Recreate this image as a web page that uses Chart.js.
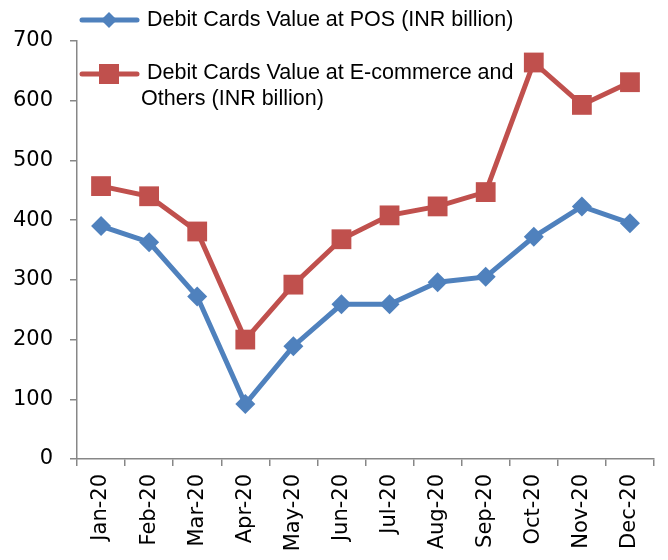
<!DOCTYPE html>
<html>
<head>
<meta charset="utf-8">
<script src="https://cdn.jsdelivr.net/npm/chart.js@4/dist/chart.umd.min.js"></script>
<style>
  html, body { margin: 0; padding: 0; background: #fff; }
  #wrap { width: 668px; height: 560px; position: relative; }
</style>
</head>
<body>
<div id="wrap"><canvas id="debitChart"></canvas></div>
<script>
// months on the x axis
var months = ['Jan-20', 'Feb-20', 'Mar-20', 'Apr-20', 'May-20', 'Jun-20',
              'Jul-20', 'Aug-20', 'Sep-20', 'Oct-20', 'Nov-20', 'Dec-20'];
// INR billion
var posValue = [390, 363, 272, 92, 189, 259, 259, 296, 305, 372, 423, 395];
var ecomValue = [457, 440, 381, 200, 292, 368, 408, 423, 447, 664, 593, 631];
var posLabel = 'Debit Cards Value at POS (INR billion)';
var ecomLabel = ['Debit Cards Value at E-commerce and', 'Others (INR billion)'];
var yTicks = [0, 100, 200, 300, 400, 500, 600, 700];

var blue = '#4f81bd', red = '#c0504d', axisGrey = '#878787';

// legend drawn by hand, sits inside the chart like the original
const legendPlugin = {
    id: 'manualLegend',
    afterDraw(chart) {
        const ctx = chart.ctx;
        ctx.save();
        ctx.lineCap = 'round';
        ctx.lineWidth = 5;

        ctx.strokeStyle = blue;
        ctx.beginPath(); ctx.moveTo(82, 20); ctx.lineTo(137, 20); ctx.stroke();
        ctx.fillStyle = blue;
        ctx.beginPath();
        ctx.moveTo(109, 12); ctx.lineTo(117, 20); ctx.lineTo(109, 28); ctx.lineTo(101, 20);
        ctx.closePath(); ctx.fill();

        ctx.strokeStyle = red;
        ctx.beginPath(); ctx.moveTo(82, 74); ctx.lineTo(137, 74); ctx.stroke();
        ctx.fillStyle = red;
        ctx.fillRect(99, 64, 20, 20);

        ctx.fillStyle = '#000';
        ctx.font = '21.5px "Liberation Sans", Arial, sans-serif';
        ctx.textBaseline = 'middle';
        ctx.fillText(posLabel, 147, 20);
        ctx.fillText(ecomLabel[0], 147, 73);
        ctx.fillText(ecomLabel[1], 141, 99);
        ctx.restore();
    }
};

const ctx = document.getElementById('debitChart').getContext('2d');
new Chart(ctx, {
    type: 'line',
    data: {
        labels: months,
        datasets: [{
            label: posLabel,
            data: posValue,
            borderColor: blue,
            backgroundColor: blue,
            borderWidth: 5,
            pointStyle: 'rectRot',
            pointRadius: 10,
            pointBorderWidth: 0,
            tension: 0
        }, {
            label: ecomLabel.join(' '),
            data: ecomValue,
            borderColor: red,
            backgroundColor: red,
            borderWidth: 5,
            pointStyle: 'rect',
            pointRadius: 14,
            pointBorderWidth: 0,
            tension: 0
        }]
    },
    options: {
        responsive: true,
        maintainAspectRatio: false,
        animation: false,
        events: [],
        layout: { padding: { top: 41, right: 11, left: 0, bottom: 0 } },
        plugins: {
            legend: { display: false },
            tooltip: { enabled: false }
        },
        scales: {
            x: {
                offset: true,
                afterFit: s => { s.height = 101; },
                grid: {
                    offset: true,
                    drawOnChartArea: false,
                    tickLength: 7,
                    color: axisGrey,
                    lineWidth: 1.5
                },
                border: { color: axisGrey, width: 1.5 },
                ticks: {
                    autoSkip: false,
                    minRotation: 90,
                    maxRotation: 90,
                    padding: 8,
                    color: '#000',
                    font: { family: '"DejaVu Sans", sans-serif', size: 21 }
                }
            },
            y: {
                min: 0,
                max: 700,
                afterFit: s => { s.width = 77; },
                afterBuildTicks: s => { s.ticks = yTicks.map(v => ({ value: v })); },
                grid: {
                    drawOnChartArea: false,
                    tickLength: 7,
                    color: axisGrey,
                    lineWidth: 1.5
                },
                border: { color: axisGrey, width: 1.5 },
                ticks: {
                    padding: 17,
                    color: '#000',
                    font: { family: '"DejaVu Sans", sans-serif', size: 21 }
                }
            }
        }
    },
    plugins: [legendPlugin]
});
</script>
</body>
</html>
